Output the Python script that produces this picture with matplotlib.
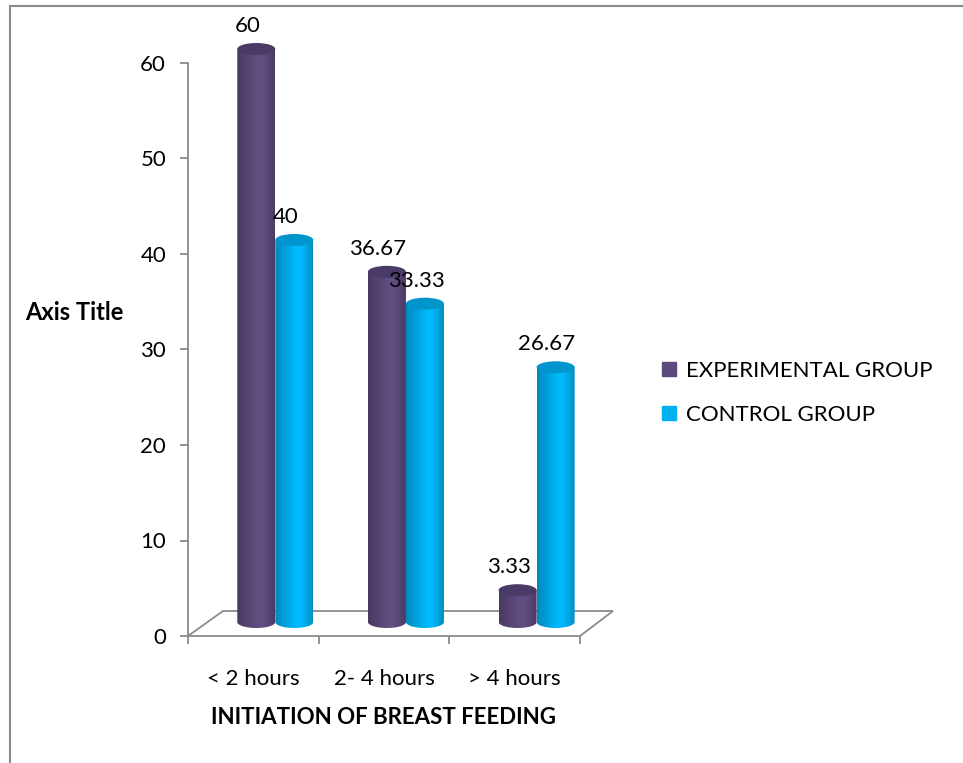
import numpy as np
import matplotlib.pyplot as plt
from matplotlib.patches import Ellipse, PathPatch, Polygon
from matplotlib.path import Path
from matplotlib.lines import Line2D
from matplotlib.colors import to_rgb

plt.rcParams['font.family'] = ['Lato', 'DejaVu Sans']

categories = ['< 2 hours', '2- 4 hours', '> 4 hours']
series_names = ['EXPERIMENTAL GROUP', 'CONTROL GROUP']
experimental = [60, 36.67, 3.33]
control = [40, 33.33, 26.67]
value_labels = [['60', '36.67', '3.33'], ['40', '33.33', '26.67']]
colors = ['#5d4a7c', '#00b0f0']
top_colors = ['#4a3a66', '#0095cc']
yticks = [0, 10, 20, 30, 40, 50, 60]

W, H = 963, 763
fig = plt.figure(figsize=(W / 100, H / 100), dpi=100)

# axes placed in pixels: y axis from 0 at 636px to 60 at 63px
px_unit = 573 / 60
ymax = 63
x0, x1, ybot = 188, 580, 636
ytop = ybot - ymax * px_unit
ax = fig.add_axes([x0 / W, 1 - ybot / H, (x1 - x0) / W, (ybot - ytop) / H])
ax.set_xlim(-0.5, 2.5)
ax.set_ylim(0, ymax)

gray = '#8a8a8a'
for s in ['top', 'right']:
    ax.spines[s].set_visible(False)
ax.spines['left'].set_bounds(0, 60)
for s in ['left', 'bottom']:
    ax.spines[s].set_color(gray)
    ax.spines[s].set_linewidth(1.3)
ax.set_yticks(yticks)
ax.set_xticks(range(len(categories)))
ax.set_xticklabels(categories)
ax.set_xticks([-0.5, 0.5, 1.5, 2.5], minor=True)
ax.tick_params(axis='y', direction='out', length=5.8, width=1.3, color=gray,
               labelsize=16, pad=10)
ax.tick_params(axis='x', which='major', length=0, labelsize=16, pad=24)
ax.tick_params(axis='x', which='minor', direction='out', length=5.8,
               width=1.3, color=gray)

# 3D floor outline
xu = 3 / (x1 - x0)
depth_x_l = 35 * xu
depth_x_r = 33 * xu
depth_y = 25 / px_unit
floor = Polygon([(-0.5, 0), (-0.5 + depth_x_l, depth_y),
                 (2.5 + depth_x_r, depth_y), (2.5, 0)],
                closed=False, fill=False, edgecolor=gray, lw=1.3,
                clip_on=False, zorder=1)
ax.add_patch(floor)

# cylinders
bar_w = 38 * xu
shift_x = 0.168
base = 14 / px_unit
eh = 12 / px_unit


def cylinder(xc, val, color, top_color):
    left, right = xc - bar_w / 2, xc + bar_w / 2
    top = base + val
    t = np.linspace(np.pi, 2 * np.pi, 40)
    arc = np.column_stack([xc + bar_w / 2 * np.cos(t), base + eh / 2 * np.sin(t)])
    verts = np.vstack([[left, top], arc, [right, top], [left, top]])
    clip = PathPatch(Path(verts, closed=True), transform=ax.transData,
                     facecolor='none', edgecolor='none')
    ax.add_patch(clip)
    prof = np.interp(np.linspace(0, 1, 64), [0, 0.55, 0.7, 1],
                     [0.78, 1.05, 1.05, 0.8])
    rgb = np.clip(np.outer(prof, to_rgb(color)), 0, 1)[None, :, :]
    im = ax.imshow(rgb, extent=(left, right, base - eh, top), aspect='auto',
                   interpolation='bilinear', zorder=2)
    im.set_clip_path(clip)
    ax.add_patch(Ellipse((xc, top), bar_w, eh, facecolor=top_color,
                         edgecolor='none', zorder=3, clip_on=False))
    return top


for i, vals in enumerate([experimental, control]):
    for j, v in enumerate(vals):
        xc = j + shift_x + (i - 0.5) * bar_w
        top = cylinder(xc, v, colors[i], top_colors[i])
        ax.text(xc - 9 * xu, top + 2.4, value_labels[i][j], ha='center',
                va='center', fontsize=16, color='black')

ax.set_xlim(-0.5, 2.5)
ax.set_ylim(0, ymax)

fig.text(74 / W, 1 - 312 / H, 'Axis Title', ha='center', va='center',
         fontsize=17, fontweight='bold')
fig.text(383 / W, 1 - 718 / H, 'INITIATION OF BREAST FEEDING', ha='center',
         va='center', fontsize=16, fontweight='bold')

handles = [Line2D([], [], marker='s', linestyle='', markersize=9.5,
                  color=c) for c in colors]
fig.legend(handles, series_names, loc='center left', frameon=False,
           bbox_to_anchor=(662 / W, 1 - 393 / H), fontsize=16,
           handlelength=0.62, handletextpad=0.45, labelspacing=1.1,
           borderpad=0, borderaxespad=0)

# outer chart border (top and left edges visible)
fig.add_artist(Line2D([10 / W, 1], [1 - 6 / H] * 2, color=gray, lw=1.5))
fig.add_artist(Line2D([10 / W] * 2, [1 - 6 / H, 0], color=gray, lw=1.5))

fig.savefig('out.png', dpi=100)
